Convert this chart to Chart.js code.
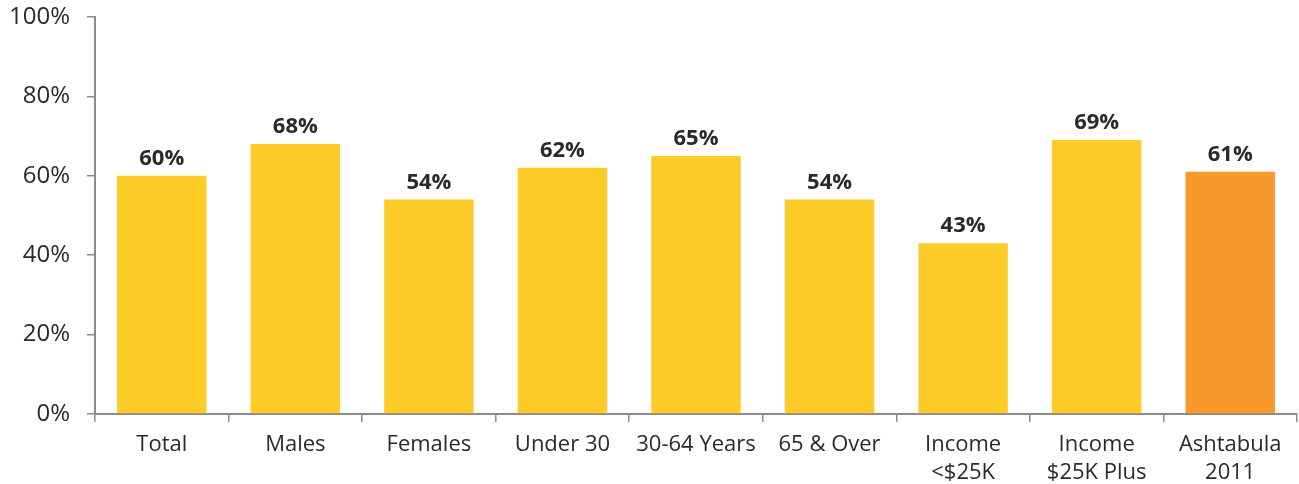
<!DOCTYPE html>
<html>
<head>
<meta charset="utf-8">
<script src="https://cdn.jsdelivr.net/npm/chart.js@4.4.0/dist/chart.umd.min.js"></script>
<style>
  html, body { margin: 0; padding: 0; background: #fff; }
  #wrap { width: 1299px; height: 484px; position: relative; }
</style>
</head>
<body>
<div id="wrap"><canvas id="chart"></canvas></div>
<script>
const categories = [
  'Total', 'Males', 'Females', 'Under 30', '30-64 Years', '65 & Over',
  ['Income', '<$25K'], ['Income', '$25K Plus'], ['Ashtabula', '2011']
]
const percentValues = [60, 68, 54, 62, 65, 54, 43, 69, 61]
const yTicks = [0, 20, 40, 60, 80, 100]

const YELLOW = '#FDCC29'
const ORANGE = '#F7992B'
const barColors = percentValues.map((v, i) => (i === percentValues.length - 1 ? ORANGE : YELLOW))

const FONT = "'Open Sans', 'Noto Sans', sans-serif"
const TEXT = '#2a2a2a'
const AXIS = '#8a8a8a'

// value labels above each bar
const valueLabels = {
  id: 'valueLabels',
  afterDatasetsDraw(chart) {
    const ctx = chart.ctx
    const meta = chart.getDatasetMeta(0)
    ctx.save()
    ctx.font = 'bold 22px ' + FONT
    ctx.fillStyle = TEXT
    ctx.textAlign = 'center'
    ctx.textBaseline = 'alphabetic'
    meta.data.forEach((bar, i) => {
      ctx.fillText(percentValues[i] + '%', bar.x, bar.y - 11)
    })
    ctx.restore()
  }
}

new Chart(document.getElementById('chart'), {
  type: 'bar',
  data: {
    labels: categories,
    datasets: [{
      data: percentValues,
      backgroundColor: barColors,
      borderWidth: 0,
      barPercentage: 0.67,
      categoryPercentage: 1
    }]
  },
  options: {
    responsive: true,
    maintainAspectRatio: false,
    animation: false,
    layout: { padding: { top: 17, right: 2, left: 0, bottom: 0 } },
    plugins: {
      legend: { display: false },
      tooltip: { enabled: false }
    },
    scales: {
      x: {
        afterFit(scale) { scale.height = 70 },
        border: { color: AXIS, width: 2 },
        grid: {
          offset: true,
          drawOnChartArea: false,
          drawTicks: true,
          tickLength: 8,
          color: AXIS,
          lineWidth: 1.5
        },
        ticks: {
          color: TEXT,
          font: { family: FONT, size: 22, lineHeight: 1.25 },
          padding: 9,
          maxRotation: 0,
          autoSkip: false
        }
      },
      y: {
        min: 0,
        max: 100,
        afterFit(scale) {
          scale.width = 95
          scale.paddingTop = 0
          scale.paddingBottom = 0
        },
        afterBuildTicks(scale) { scale.ticks = yTicks.map(v => ({ value: v })) },
        border: { color: AXIS, width: 2 },
        grid: {
          drawOnChartArea: false,
          drawTicks: true,
          tickLength: 8,
          color: AXIS,
          lineWidth: 1.5
        },
        ticks: {
          color: TEXT,
          font: { family: FONT, size: 24 },
          padding: 17,
          callback: v => v + '%'
        }
      }
    }
  },
  plugins: [valueLabels]
})
</script>
</body>
</html>
